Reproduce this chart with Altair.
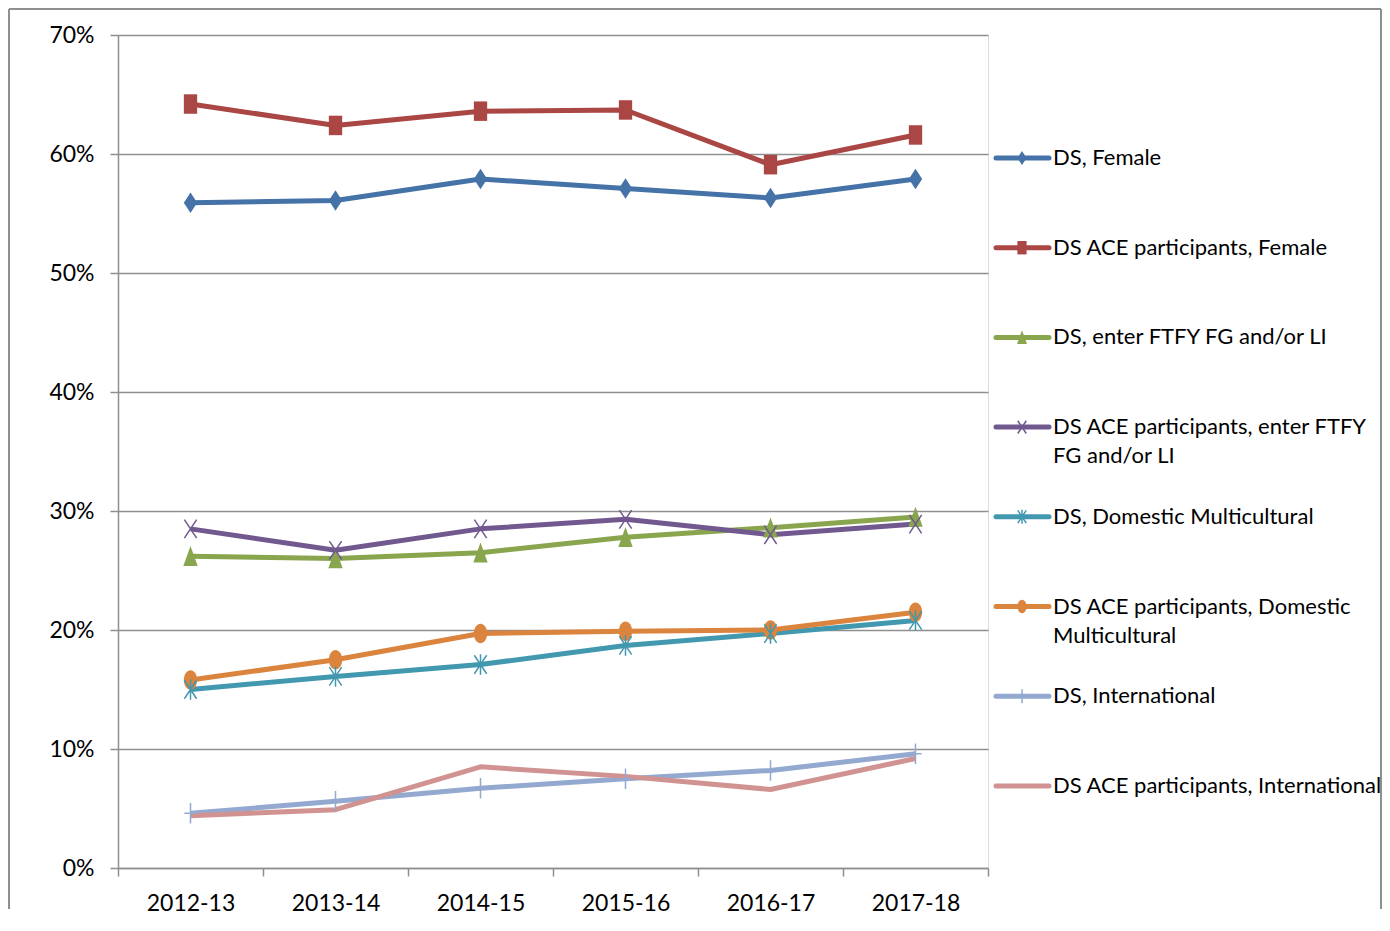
import altair as alt
import pandas as pd

years = ["2012-13", "2013-14", "2014-15", "2015-16", "2016-17", "2017-18"]

series_names = [
    "DS, Female",
    "DS ACE participants, Female",
    "DS, enter FTFY FG and/or LI",
    "DS ACE participants, enter FTFY FG and/or LI",
    "DS, Domestic Multicultural",
    "DS ACE participants, Domestic Multicultural",
    "DS, International",
    "DS ACE participants, International",
]

legend_labels = [
    "DS, Female",
    "DS ACE participants, Female",
    "DS, enter FTFY FG and/or LI",
    "DS ACE participants, enter FTFY\nFG and/or LI",
    "DS, Domestic Multicultural",
    "DS ACE participants, Domestic\nMulticultural",
    "DS, International",
    "DS ACE participants, International",
]

ds_female = [0.559, 0.561, 0.579, 0.571, 0.563, 0.579]
ace_female = [0.642, 0.624, 0.636, 0.637, 0.591, 0.616]
ds_ftfy = [0.262, 0.260, 0.265, 0.278, 0.286, 0.295]
ace_ftfy = [0.285, 0.267, 0.285, 0.293, 0.280, 0.289]
ds_dm = [0.150, 0.161, 0.171, 0.187, 0.197, 0.208]
ace_dm = [0.158, 0.175, 0.197, 0.199, 0.200, 0.215]
ds_intl = [0.046, 0.056, 0.067, 0.075, 0.082, 0.096]
ace_intl = [0.044, 0.049, 0.085, 0.077, 0.066, 0.092]

all_values = [ds_female, ace_female, ds_ftfy, ace_ftfy, ds_dm, ace_dm, ds_intl, ace_intl]

colors = ["#4572A7", "#AA4643", "#89A54E", "#71588F", "#4198AF", "#DB843D", "#93A9CF", "#D19392"]

shapes = [
    "M0,-1L0.65,0L0,1L-0.65,0Z",                                   # diamond
    "M-0.65,-0.95L0.65,-0.95L0.65,0.95L-0.65,0.95Z",               # square
    "M0,-1L0.7,0.95L-0.7,0.95Z",                                   # triangle
    "M-0.6,-0.9L0.6,0.9M-0.6,0.9L0.6,-0.9",                        # x
    "M-0.6,-0.9L0.6,0.9M-0.6,0.9L0.6,-0.9M0,-1L0,1",               # asterisk
    "M-0.65,0A0.65,0.95,0,1,0,0.65,0A0.65,0.95,0,1,0,-0.65,0Z",    # ellipse
    "M0,-1L0,1M-0.6,0L0.6,0",                                      # plus
    "M0,0L0,0",                                                    # none
]
filled_flags = [True, True, True, False, False, True, False, False]

rows = []
for s, vals, f in zip(series_names, all_values, filled_flags):
    for y, v in zip(years, vals):
        rows.append({"series": s, "year": y, "value": v, "filled": f})
df = pd.DataFrame(rows)

leg = pd.DataFrame({
    "series": series_names,
    "label": legend_labels,
    "idx": list(range(len(series_names))),
    "filled": filled_flags,
})

GRID = "#8f8f8f"
FONT = "Lato"

color_scale = alt.Scale(domain=series_names, range=colors)
shape_scale = alt.Scale(domain=series_names, range=shapes)

x_enc = alt.X(
    "year:N",
    sort=years,
    scale=alt.Scale(type="band", paddingInner=0, paddingOuter=0),
    axis=alt.Axis(
        title=None, labelAngle=0, tickBand="extent", tickSize=8,
        labelPadding=16, labelFontSize=23, labelFont=FONT, labelColor="black",
        domainColor=GRID, tickColor=GRID, domainWidth=1.5, tickWidth=1.5, grid=False,
    ),
)
y_enc = alt.Y(
    "value:Q",
    scale=alt.Scale(domain=[0, 0.7], nice=False),
    axis=alt.Axis(
        title=None, values=[0, 0.1, 0.2, 0.3, 0.4, 0.5, 0.6, 0.7], format=".0%",
        tickSize=8, labelPadding=16, labelFontSize=23, labelFont=FONT, labelColor="black",
        domainColor=GRID, tickColor=GRID, gridColor=GRID, domainWidth=1.5, tickWidth=1.5,
        gridWidth=1.5, grid=True,
    ),
)

base = alt.Chart(df)
lines = base.mark_line(strokeWidth=5, strokeJoin="round").encode(
    x=x_enc, y=y_enc,
    color=alt.Color("series:N", scale=color_scale, legend=None),
    detail="series:N",
)
pts_fill = base.transform_filter("datum.filled").mark_point(
    filled=True, opacity=1, size=420
).encode(
    x=x_enc, y=y_enc,
    color=alt.Color("series:N", scale=color_scale, legend=None),
    shape=alt.Shape("series:N", scale=shape_scale, legend=None),
)
pts_stroke = base.transform_filter("!datum.filled").mark_point(
    filled=False, opacity=1, size=420, strokeWidth=1.5
).encode(
    x=x_enc, y=y_enc,
    color=alt.Color("series:N", scale=color_scale, legend=None),
    shape=alt.Shape("series:N", scale=shape_scale, legend=None),
)

# legend
lb = alt.Chart(leg).transform_calculate(py="123 + datum.idx * 89.7")
py_enc = alt.Y("py:Q", scale=None, axis=None)
leg_rule = lb.mark_rule(strokeWidth=5, strokeCap="round").encode(
    x=alt.value(878), x2=alt.value(931), y=py_enc,
    color=alt.Color("series:N", scale=color_scale, legend=None),
)
leg_fill = lb.transform_filter("datum.filled").mark_point(
    filled=True, opacity=1, size=200
).encode(
    x=alt.value(904), y=py_enc,
    color=alt.Color("series:N", scale=color_scale, legend=None),
    shape=alt.Shape("series:N", scale=shape_scale, legend=None),
)
leg_stroke = lb.transform_filter("!datum.filled").mark_point(
    filled=False, opacity=1, size=200, strokeWidth=1.5
).encode(
    x=alt.value(904), y=py_enc,
    color=alt.Color("series:N", scale=color_scale, legend=None),
    shape=alt.Shape("series:N", scale=shape_scale, legend=None),
)
leg_text = lb.mark_text(
    align="left", baseline="top", dy=-10, fontSize=22, font=FONT,
    color="black", lineBreak="\n", lineHeight=29,
).encode(x=alt.value(935), y=py_enc, text="label:N")

# outer frame (left, top, right edges)
frame_df = pd.DataFrame({"k": [0]})
fb = alt.Chart(frame_df)
frame_left = fb.mark_rule(color=GRID, strokeWidth=2).encode(
    x=alt.value(-109), y=alt.value(-26), y2=alt.value(874))
frame_top = fb.mark_rule(color=GRID, strokeWidth=2).encode(
    x=alt.value(-109), x2=alt.value(1263), y=alt.value(-26))
frame_right = fb.mark_rule(color=GRID, strokeWidth=2).encode(
    x=alt.value(1263), y=alt.value(-26), y2=alt.value(874))

chart = alt.layer(
    frame_left, frame_top, frame_right,
    lines, pts_fill, pts_stroke,
    leg_rule, leg_fill, leg_stroke, leg_text,
).properties(
    width=870, height=833,
    padding={"left": 0, "top": 0, "right": 0, "bottom": 0},
).configure_view(strokeWidth=0, stroke="transparent").configure(background="white")

chart.save("out.html", embed_options={"renderer": "svg", "actions": False})
